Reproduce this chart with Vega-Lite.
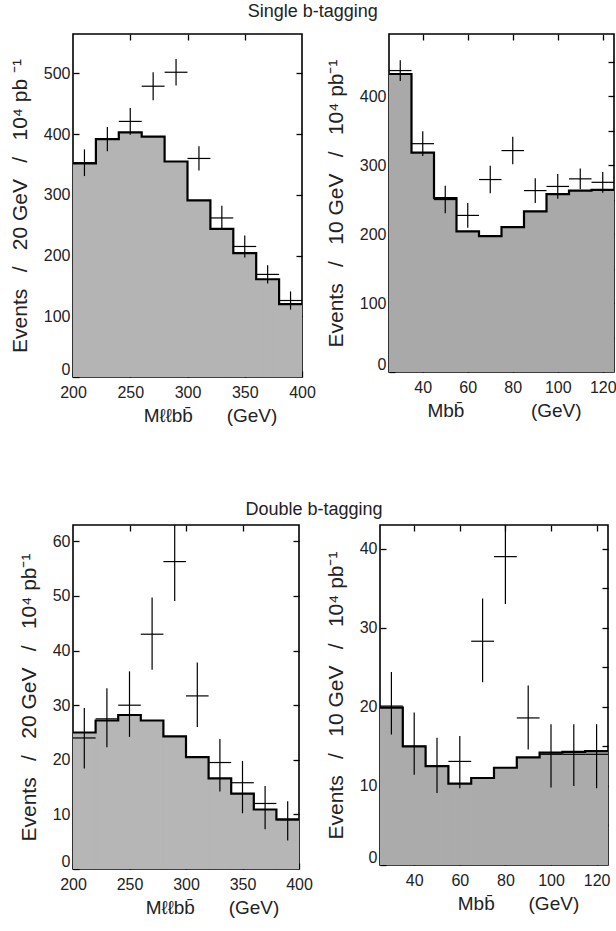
{
  "$schema": "https://vega.github.io/schema/vega-lite/v6.json",
  "background": "white",
  "padding": {"left": 8, "top": 2, "right": 0, "bottom": 2},
  "config": {
    "font": "Liberation Sans",
    "view": {"stroke": "black", "strokeWidth": 1.6},
    "axis": {"domain": false, "grid": false, "tickColor": "black", "tickSize": -6, "tickWidth": 1.3, "labelPadding": 9, "labelFontSize": 16, "labelColor": "#222", "titleFontSize": 21, "titleFontWeight": "normal", "titleColor": "#222", "titlePadding": 13},
    "axisX": {"labelFlush": false, "labelPadding": 13, "titleFontSize": 19, "titlePadding": 6},
    "axisY": {"labelFlush": true, "labelFlushOffset": 0},
    "title": {"fontSize": 18, "fontWeight": "normal", "color": "#222", "anchor": "middle", "offset": 12}
  },
  "datasets": {
    "s1": [
      {"lo": 200, "hi": 220, "m": 210, "bg": 352, "obs": 353, "elo": 331, "ehi": 375},
      {"lo": 220, "hi": 240, "m": 230, "bg": 392, "obs": 392, "elo": 372, "ehi": 412},
      {"lo": 240, "hi": 260, "m": 250, "bg": 403, "obs": 421, "elo": 399, "ehi": 443},
      {"lo": 260, "hi": 280, "m": 270, "bg": 396, "obs": 479, "elo": 456, "ehi": 502},
      {"lo": 280, "hi": 300, "m": 290, "bg": 355, "obs": 502, "elo": 480, "ehi": 524},
      {"lo": 300, "hi": 320, "m": 310, "bg": 291, "obs": 360, "elo": 340, "ehi": 380},
      {"lo": 320, "hi": 340, "m": 330, "bg": 244, "obs": 262, "elo": 242, "ehi": 282},
      {"lo": 340, "hi": 360, "m": 350, "bg": 204, "obs": 215, "elo": 197, "ehi": 233},
      {"lo": 360, "hi": 380, "m": 370, "bg": 161, "obs": 169, "elo": 154, "ehi": 184},
      {"lo": 380, "hi": 400, "m": 390, "bg": 120, "obs": 126, "elo": 111, "ehi": 141}
    ],
    "s2": [
      {"lo": 25, "hi": 35, "m": 30, "bg": 432, "obs": 437, "elo": 422, "ehi": 452},
      {"lo": 35, "hi": 45, "m": 40, "bg": 318, "obs": 331, "elo": 313, "ehi": 349},
      {"lo": 45, "hi": 55, "m": 50, "bg": 252, "obs": 250, "elo": 230, "ehi": 270},
      {"lo": 55, "hi": 65, "m": 60, "bg": 204, "obs": 227, "elo": 209, "ehi": 245},
      {"lo": 65, "hi": 75, "m": 70, "bg": 197, "obs": 279, "elo": 259, "ehi": 299},
      {"lo": 75, "hi": 85, "m": 80, "bg": 210, "obs": 321, "elo": 301, "ehi": 341},
      {"lo": 85, "hi": 95, "m": 90, "bg": 233, "obs": 263, "elo": 245, "ehi": 281},
      {"lo": 95, "hi": 105, "m": 100, "bg": 258, "obs": 269, "elo": 251, "ehi": 287},
      {"lo": 105, "hi": 115, "m": 110, "bg": 263, "obs": 280, "elo": 265, "ehi": 295},
      {"lo": 115, "hi": 125, "m": 120, "bg": 264, "obs": 275, "elo": 260, "ehi": 290}
    ],
    "d1": [
      {"lo": 200, "hi": 220, "m": 210, "bg": 25, "obs": 24, "elo": 18.4, "ehi": 29.5},
      {"lo": 220, "hi": 240, "m": 230, "bg": 27.2, "obs": 27.5, "elo": 22.3, "ehi": 33.1},
      {"lo": 240, "hi": 260, "m": 250, "bg": 28.2, "obs": 30, "elo": 24.2, "ehi": 36.2},
      {"lo": 260, "hi": 280, "m": 270, "bg": 27.2, "obs": 43, "elo": 36.5, "ehi": 49.7},
      {"lo": 280, "hi": 300, "m": 290, "bg": 24.3, "obs": 56.3, "elo": 49.1, "ehi": 63},
      {"lo": 300, "hi": 320, "m": 310, "bg": 20.5, "obs": 31.7, "elo": 26, "ehi": 37.8},
      {"lo": 320, "hi": 340, "m": 330, "bg": 16.6, "obs": 19.5, "elo": 14.2, "ehi": 23.8},
      {"lo": 340, "hi": 360, "m": 350, "bg": 13.8, "obs": 15.8, "elo": 10.2, "ehi": 19.8},
      {"lo": 360, "hi": 380, "m": 370, "bg": 10.9, "obs": 12, "elo": 7.3, "ehi": 15.2},
      {"lo": 380, "hi": 400, "m": 390, "bg": 9.1, "obs": 9, "elo": 5.2, "ehi": 12.4}
    ],
    "d2": [
      {"lo": 25, "hi": 35, "m": 30, "bg": 19.9, "obs": 20.1, "elo": 16.5, "ehi": 24.4},
      {"lo": 35, "hi": 45, "m": 40, "bg": 15, "obs": 15, "elo": 11.4, "ehi": 19.3},
      {"lo": 45, "hi": 55, "m": 50, "bg": 12.5, "obs": 12.5, "elo": 9.1, "ehi": 16.1},
      {"lo": 55, "hi": 65, "m": 60, "bg": 10.3, "obs": 13.1, "elo": 9.7, "ehi": 16.3},
      {"lo": 65, "hi": 75, "m": 70, "bg": 11, "obs": 28.3, "elo": 23.1, "ehi": 33.7},
      {"lo": 75, "hi": 85, "m": 80, "bg": 12.3, "obs": 39, "elo": 33, "ehi": 43},
      {"lo": 85, "hi": 95, "m": 90, "bg": 13.6, "obs": 18.6, "elo": 14.6, "ehi": 22.7},
      {"lo": 95, "hi": 105, "m": 100, "bg": 14.2, "obs": 14, "elo": 9.8, "ehi": 17.8},
      {"lo": 105, "hi": 115, "m": 110, "bg": 14.3, "obs": 14, "elo": 10, "ehi": 17.8},
      {"lo": 115, "hi": 125, "m": 120, "bg": 14.4, "obs": 14, "elo": 9.7, "ehi": 17.8}
    ]
  },
  "spacing": 74,
  "vconcat": [
    {
      "title": "Single b-tagging",
      "spacing": 7,
      "hconcat": [
        {
          "width": 229, "height": 343,
          "data": {"name": "s1"},
          "resolve": {"axis": {"x": "independent", "y": "independent"}},
          "layer": [
            {"mark": {"type": "rect", "fill": "#b4b4b4", "stroke": "#b4b4b4", "strokeWidth": 1, "clip": true},
             "encoding": {
               "x": {"field": "lo", "type": "quantitative", "scale": {"domain": [200, 400], "nice": false, "zero": false}, "axis": {"values": [200, 250, 300, 350, 400], "title": "Mℓℓbb̄\u2003\u2002 (GeV)", "titleX": 137}},
               "x2": {"field": "hi"},
               "y": {"field": "bg", "type": "quantitative", "scale": {"domain": [0, 565], "nice": false}, "axis": {"values": [0, 100, 200, 300, 400, 500], "title": "Events\u2002 / \u200220 GeV\u2002 / \u200210⁴ pb ⁻¹"}},
               "y2": {"datum": 0}}},
            {"transform": [{"fold": ["lo", "hi"], "as": ["k", "xe"]}],
             "mark": {"type": "line", "stroke": "black", "strokeWidth": 2.2, "clip": true},
             "encoding": {
               "x": {"field": "xe", "type": "quantitative", "axis": {"orient": "top", "values": [250, 300, 350], "labels": false, "title": null}},
               "y": {"field": "bg", "type": "quantitative", "axis": {"orient": "right", "values": [100, 200, 300, 400, 500], "labels": false, "title": null}},
               "order": [{"field": "xe"}, {"field": "lo"}]}},
            {"mark": {"type": "rule", "stroke": "black", "strokeWidth": 1.2, "clip": true},
             "encoding": {"x": {"field": "m", "type": "quantitative", "axis": null}, "y": {"field": "elo", "type": "quantitative", "axis": null}, "y2": {"field": "ehi"}}},
            {"mark": {"type": "rule", "stroke": "black", "strokeWidth": 1.2, "clip": true},
             "encoding": {"x": {"field": "lo", "type": "quantitative", "axis": null}, "x2": {"field": "hi"}, "y": {"field": "obs", "type": "quantitative", "axis": null}}}
          ]
        },
        {
          "width": 225, "height": 338,
          "data": {"name": "s2"},
          "resolve": {"axis": {"x": "independent", "y": "independent"}},
          "layer": [
            {"mark": {"type": "rect", "fill": "#a9a9a9", "stroke": "#a9a9a9", "strokeWidth": 1, "clip": true},
             "encoding": {
               "x": {"field": "lo", "type": "quantitative", "scale": {"domain": [25, 125], "nice": false, "zero": false}, "axis": {"values": [40, 60, 80, 100, 120], "title": "Mbb̄\u2003\u2003\u2003\u2002(GeV)", "titleX": 115}},
               "x2": {"field": "hi"},
               "y": {"field": "bg", "type": "quantitative", "scale": {"domain": [0, 490], "nice": false}, "axis": {"values": [0, 100, 200, 300, 400], "title": "Events\u2002 / \u200210 GeV\u2002 / \u200210⁴ pb⁻¹"}},
               "y2": {"datum": 0}}},
            {"transform": [{"fold": ["lo", "hi"], "as": ["k", "xe"]}],
             "mark": {"type": "line", "stroke": "black", "strokeWidth": 2.2, "clip": true},
             "encoding": {
               "x": {"field": "xe", "type": "quantitative", "axis": {"orient": "top", "values": [40, 60, 80, 100, 120], "labels": false, "title": null}},
               "y": {"field": "bg", "type": "quantitative", "axis": {"orient": "right", "values": [50, 100, 150, 200, 250, 300, 350, 400, 450], "labels": false, "title": null}},
               "order": [{"field": "xe"}, {"field": "lo"}]}},
            {"mark": {"type": "rule", "stroke": "black", "strokeWidth": 1.2, "clip": true},
             "encoding": {"x": {"field": "m", "type": "quantitative", "axis": null}, "y": {"field": "elo", "type": "quantitative", "axis": null}, "y2": {"field": "ehi"}}},
            {"mark": {"type": "rule", "stroke": "black", "strokeWidth": 1.2, "clip": true},
             "encoding": {"x": {"field": "lo", "type": "quantitative", "axis": null}, "x2": {"field": "hi"}, "y": {"field": "obs", "type": "quantitative", "axis": null}}}
          ]
        }
      ]
    },
    {
      "title": {"text": "Double b-tagging", "offset": 5},
      "spacing": 10,
      "hconcat": [
        {
          "width": 226, "height": 344,
          "data": {"name": "d1"},
          "resolve": {"axis": {"x": "independent", "y": "independent"}},
          "layer": [
            {"mark": {"type": "rect", "fill": "#b6b6b6", "stroke": "#b6b6b6", "strokeWidth": 1, "clip": true},
             "encoding": {
               "x": {"field": "lo", "type": "quantitative", "scale": {"domain": [200, 400], "nice": false, "zero": false}, "axis": {"values": [200, 250, 300, 350, 400], "title": "Mℓℓbb̄\u2003\u2002 (GeV)", "titleX": 139}},
               "x2": {"field": "hi"},
               "y": {"field": "bg", "type": "quantitative", "scale": {"domain": [0, 63], "nice": false}, "axis": {"values": [0, 10, 20, 30, 40, 50, 60], "title": "Events\u2002 / \u200220 GeV\u2002 / \u200210⁴ pb⁻¹"}},
               "y2": {"datum": 0}}},
            {"transform": [{"fold": ["lo", "hi"], "as": ["k", "xe"]}],
             "mark": {"type": "line", "stroke": "black", "strokeWidth": 2.2, "clip": true},
             "encoding": {
               "x": {"field": "xe", "type": "quantitative", "axis": {"orient": "top", "values": [250, 300, 350], "labels": false, "title": null}},
               "y": {"field": "bg", "type": "quantitative", "axis": {"orient": "right", "values": [10, 20, 30, 40, 50, 60], "labels": false, "title": null}},
               "order": [{"field": "xe"}, {"field": "lo"}]}},
            {"mark": {"type": "rule", "stroke": "black", "strokeWidth": 1.2, "clip": true},
             "encoding": {"x": {"field": "m", "type": "quantitative", "axis": null}, "y": {"field": "elo", "type": "quantitative", "axis": null}, "y2": {"field": "ehi"}}},
            {"mark": {"type": "rule", "stroke": "black", "strokeWidth": 1.2, "clip": true},
             "encoding": {"x": {"field": "lo", "type": "quantitative", "axis": null}, "x2": {"field": "hi"}, "y": {"field": "obs", "type": "quantitative", "axis": null}}}
          ]
        },
        {
          "width": 228, "height": 340,
          "data": {"name": "d2"},
          "resolve": {"axis": {"x": "independent", "y": "independent"}},
          "layer": [
            {"mark": {"type": "rect", "fill": "#ababab", "stroke": "#ababab", "strokeWidth": 1, "clip": true},
             "encoding": {
               "x": {"field": "lo", "type": "quantitative", "scale": {"domain": [25, 125], "nice": false, "zero": false}, "axis": {"values": [40, 60, 80, 100, 120], "title": "Mbb̄\u2003\u2002 (GeV)", "titleX": 138}},
               "x2": {"field": "hi"},
               "y": {"field": "bg", "type": "quantitative", "scale": {"domain": [0, 43], "nice": false}, "axis": {"values": [0, 10, 20, 30, 40], "title": "Events\u2002 / \u200210 GeV\u2002 / \u200210⁴ pb⁻¹"}},
               "y2": {"datum": 0}}},
            {"transform": [{"fold": ["lo", "hi"], "as": ["k", "xe"]}],
             "mark": {"type": "line", "stroke": "black", "strokeWidth": 2.2, "clip": true},
             "encoding": {
               "x": {"field": "xe", "type": "quantitative", "axis": {"orient": "top", "values": [40, 60, 80, 100, 120], "labels": false, "title": null}},
               "y": {"field": "bg", "type": "quantitative", "axis": {"orient": "right", "values": [5, 10, 15, 20, 25, 30, 35, 40], "labels": false, "title": null}},
               "order": [{"field": "xe"}, {"field": "lo"}]}},
            {"mark": {"type": "rule", "stroke": "black", "strokeWidth": 1.2, "clip": true},
             "encoding": {"x": {"field": "m", "type": "quantitative", "axis": null}, "y": {"field": "elo", "type": "quantitative", "axis": null}, "y2": {"field": "ehi"}}},
            {"mark": {"type": "rule", "stroke": "black", "strokeWidth": 1.2, "clip": true},
             "encoding": {"x": {"field": "lo", "type": "quantitative", "axis": null}, "x2": {"field": "hi"}, "y": {"field": "obs", "type": "quantitative", "axis": null}}}
          ]
        }
      ]
    }
  ]
}
